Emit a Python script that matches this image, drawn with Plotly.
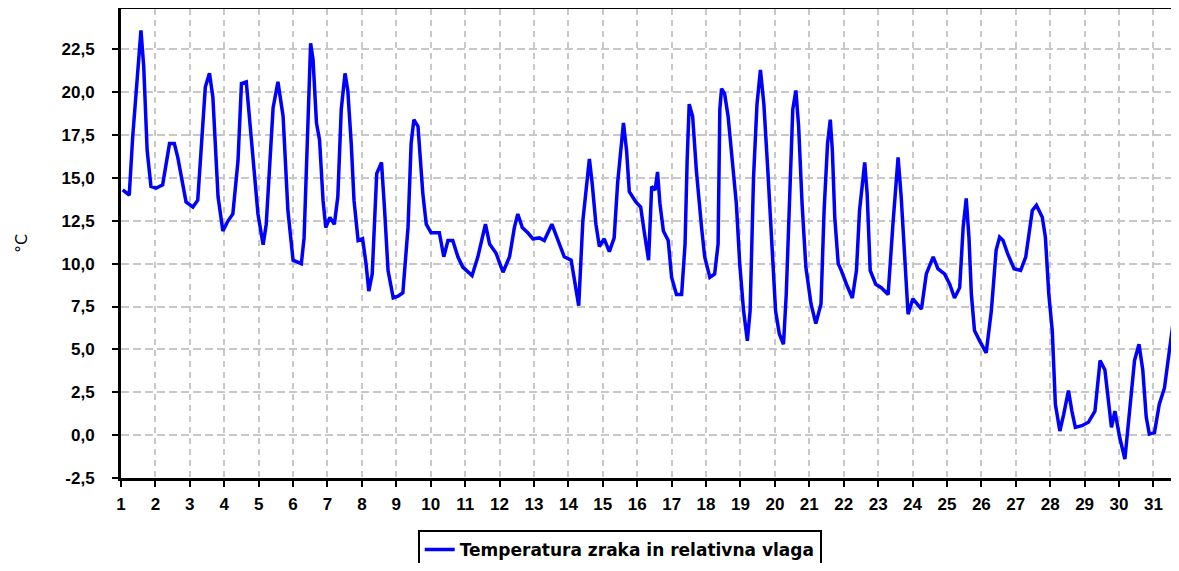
import plotly.graph_objects as go

# dan v mesecu (decimalno) in temperatura zraka v °C, odčitano z grafa
dan = [1.05, 1.24, 1.34, 1.49, 1.58, 1.66, 1.76, 1.87, 2.02, 2.21, 2.41, 2.55, 2.65, 2.89,
       3.09, 3.23, 3.38, 3.45, 3.57, 3.67, 3.82, 3.96, 4.11, 4.25, 4.40, 4.50, 4.64, 4.79,
       4.88, 4.98, 5.13, 5.22, 5.42, 5.56, 5.71, 5.85, 6.0, 6.24, 6.32, 6.42, 6.51, 6.58,
       6.68, 6.77, 6.87, 6.95, 7.07, 7.2, 7.3, 7.4, 7.51, 7.59, 7.69, 7.77, 7.89, 8.02,
       8.12, 8.2, 8.3, 8.43, 8.57, 8.66, 8.76, 8.91, 9.05, 9.19, 9.34, 9.43, 9.51, 9.63,
       9.77, 9.87, 10.01, 10.25, 10.38, 10.5, 10.64, 10.79, 10.93, 11.2, 11.37, 11.59,
       11.71, 11.9, 12.1, 12.29, 12.43, 12.53, 12.66, 12.82, 12.97, 13.16, 13.3, 13.52,
       13.69, 13.88, 14.08, 14.17, 14.3, 14.42, 14.53, 14.61, 14.69, 14.8, 14.9, 15.04,
       15.19, 15.33, 15.43, 15.53, 15.6, 15.69, 15.77, 15.96, 16.1, 16.2, 16.33, 16.42,
       16.52, 16.59, 16.66, 16.76, 16.9, 17.0, 17.14, 17.29, 17.39, 17.45, 17.51, 17.61,
       17.72, 17.87, 17.96, 18.11, 18.25, 18.35, 18.4, 18.45, 18.54, 18.64, 18.76, 18.88,
       18.98, 19.09, 19.2, 19.28, 19.38, 19.48, 19.58, 19.68, 19.8, 19.91, 20.02, 20.13,
       20.25, 20.33, 20.42, 20.52, 20.61, 20.69, 20.79, 20.9, 21.05, 21.19, 21.34, 21.43,
       21.53, 21.61, 21.67, 21.74, 21.84, 21.93, 22.08, 22.25, 22.37, 22.46, 22.61, 22.68,
       22.77, 22.93, 23.09, 23.29, 23.43, 23.58, 23.67, 23.77, 23.87, 24.01, 24.26, 24.4,
       24.6, 24.74, 24.93, 25.08, 25.22, 25.37, 25.47, 25.56, 25.64, 25.71, 25.8, 25.95,
       26.14, 26.29, 26.43, 26.53, 26.63, 26.76, 26.95, 27.14, 27.29, 27.48, 27.6, 27.77,
       27.86, 27.96, 28.06, 28.15, 28.28, 28.39, 28.53, 28.63, 28.73, 28.92, 29.11, 29.3,
       29.45, 29.59, 29.69, 29.78, 29.88, 30.02, 30.17, 30.31, 30.45, 30.58, 30.69, 30.79,
       30.88, 31.03, 31.17, 31.32, 31.46, 31.56, 31.75]
temperatura = [14.3, 14.0, 17.4, 21.7, 23.6, 21.5, 16.6, 14.5, 14.4, 14.6, 17.0, 17.0, 16.2, 13.6,
               13.3, 13.7, 17.8, 20.3, 21.1, 19.7, 13.9, 11.9, 12.5, 12.9, 16.0, 20.5, 20.6, 17.4,
               15.0, 12.9, 11.1, 12.3, 19.1, 20.6, 18.6, 13.1, 10.2, 10.0, 11.5, 17.0, 22.85, 21.9,
               18.2, 17.2, 13.7, 12.1, 12.7, 12.3, 13.9, 19.0, 21.1, 20.1, 17.0, 13.7, 11.35, 11.45,
               10.0, 8.4, 9.4, 15.25, 15.9, 13.1, 9.6, 8.0, 8.1, 8.3, 12.1, 17.0, 18.4, 18.0,
               14.1, 12.3, 11.8, 11.8, 10.4, 11.35, 11.35, 10.4, 9.8, 9.3, 10.4, 12.3,
               11.15, 10.6, 9.5, 10.4, 12.1, 12.9, 12.1, 11.8, 11.45, 11.5, 11.35, 12.3,
               11.35, 10.4, 10.2, 9.0, 7.55, 12.5, 14.5, 16.1, 14.7, 12.3, 11.0, 11.45,
               10.7, 11.5, 14.7, 16.6, 18.2, 16.6, 14.2, 13.6, 13.3, 11.9, 10.2, 14.5,
               14.3, 15.35, 13.5, 11.9, 11.35, 9.2, 8.2, 8.2, 11.15, 16.0, 19.3, 18.6,
               15.4, 12.1, 10.4, 9.2, 9.4, 11.15, 19.0, 20.2, 19.9, 18.6, 16.0, 13.5,
               9.95, 7.25, 5.5, 7.25, 15.05, 19.3, 21.3, 19.3, 15.25, 11.15, 7.25, 5.9,
               5.3, 8.2, 14.1, 19.0, 20.1, 18.0, 13.5, 9.8, 7.65, 6.5, 7.65, 13.1,
               17.0, 18.4, 16.6, 12.7, 10.0, 9.6, 8.8, 8.0, 9.6, 13.1, 15.9, 14.1,
               9.6, 8.8, 8.6, 8.2, 12.3, 16.2, 13.9, 10.0, 7.05, 7.95, 7.35, 9.4,
               10.4, 9.7, 9.4, 8.8, 8.0, 8.6, 12.1, 13.8, 11.5, 8.2, 6.1, 5.5,
               4.8, 7.25, 10.8, 11.55, 11.35, 10.6, 9.7, 9.6, 10.4, 13.1, 13.4, 12.7,
               11.55, 8.2, 6.1, 1.8, 0.24, 1.2, 2.6, 1.4, 0.45, 0.55, 0.75, 1.4,
               4.35, 3.8, 1.8, 0.45, 1.4, -0.14, -1.4, 1.4, 4.35, 5.3, 3.8, 1.05,
               0.06, 0.15, 1.8, 2.75, 4.9, 6.4, 5.7]

dnevi = list(range(1, 32))
y_oznake = [-2.5, 0.0, 2.5, 5.0, 7.5, 10.0, 12.5, 15.0, 17.5, 20.0, 22.5]
y_besedila = ["-2,5", "0,0", "2,5", "5,0", "7,5", "10,0", "12,5", "15,0", "17,5", "20,0", "22,5"]

pisava = dict(family="Liberation Sans", size=17, color="black", weight="bold")

fig = go.Figure()
fig.add_trace(go.Scatter(x=dan, y=temperatura, mode="lines",
                         name="Temperatura zraka in relativna vlaga",
                         line=dict(color="#0000ff", width=3.5)))

# stran ima 8 px roba, zato so robovi zamaknjeni (graf ne sme preseči okna)
fig.update_layout(
    width=1163, height=555,
    margin=dict(l=113, r=0, t=1, b=85, autoexpand=False),
    paper_bgcolor="white", plot_bgcolor="white",
    showlegend=True,
    legend=dict(orientation="h", x=0.2826, y=-0.111, xanchor="left", yanchor="top",
                bordercolor="black", borderwidth=2, bgcolor="white",
                font=dict(family="DejaVu Sans", size=17, color="black", weight="bold")),
)
fig.update_xaxes(range=[1, 31.51], tickvals=dnevi, ticks="outside", ticklen=6, tickwidth=2,
                 tickcolor="black", tickfont=pisava, showline=True, linecolor="black",
                 linewidth=3, mirror=True, showgrid=True, gridcolor="#c8c8c8", gridwidth=2,
                 griddash="6px,5px", zeroline=False, ticklabelstandoff=3, automargin=False)
fig.update_yaxes(range=[-2.5, 24.85], tickvals=y_oznake, ticktext=y_besedila, ticks="outside",
                 ticklen=6, tickwidth=2, tickcolor="black", tickfont=pisava, showline=True,
                 linecolor="black", linewidth=3, showgrid=True, gridcolor="#c8c8c8",
                 gridwidth=2, griddash="8px,4px", zeroline=False, ticklabelstandoff=14,
                 automargin=False,
                 title=dict(text="°C", font=dict(family="DejaVu Sans", size=16, color="black"),
                            standoff=30))

fig.write_html("out.html")
